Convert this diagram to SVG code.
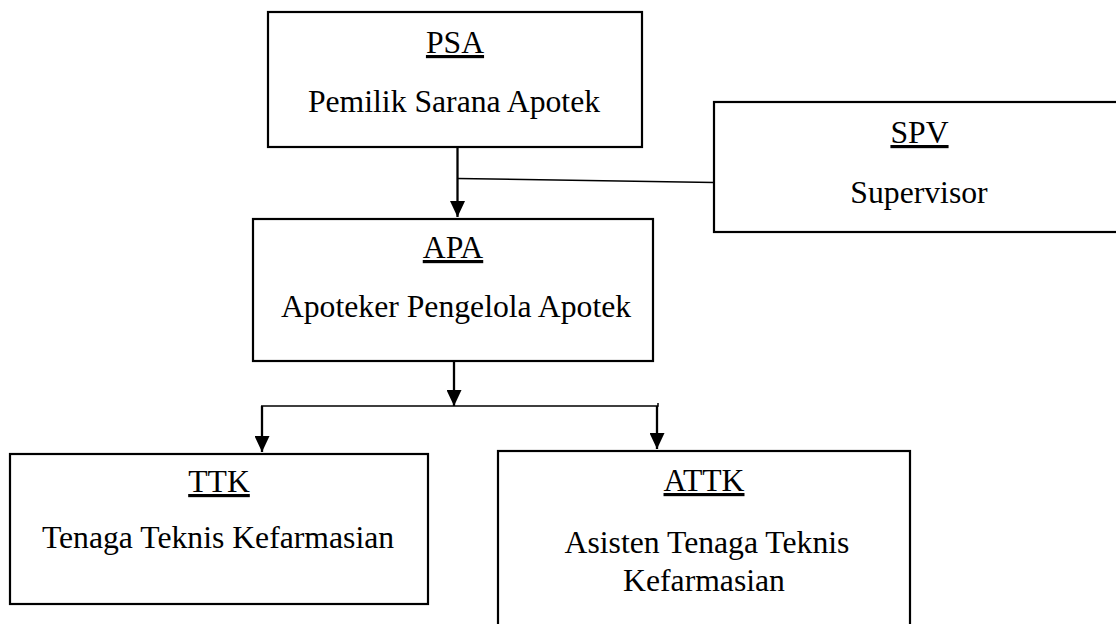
<svg xmlns="http://www.w3.org/2000/svg" width="1116" height="624" viewBox="0 0 1116 624">
<style>
.box{fill:#fff;stroke:#000;stroke-width:2.2}
.t{font-family:"Liberation Serif","Times New Roman",serif;font-size:31.7px;fill:#000;text-anchor:middle}
.u{text-decoration:underline}
.c{fill:none;stroke:#000;stroke-width:2.3}
.thin{fill:none;stroke:#000;stroke-width:1.5}
</style>
<defs>
<marker id="ah" markerUnits="userSpaceOnUse" markerWidth="17" markerHeight="15" refX="16" refY="7.5" orient="auto" viewBox="0 0 16 15">
<path d="M0,0 L16,7.5 L0,15 Z" fill="#000"/>
</marker>
</defs>
<rect width="1116" height="624" fill="#fff"/>
<g id="connectors">
<line class="c" x1="457.5" y1="147" x2="457.5" y2="217" marker-end="url(#ah)"/>
<line class="thin" x1="457.5" y1="178.5" x2="714" y2="182.5"/>
<line class="c" x1="454" y1="361" x2="454" y2="406" marker-end="url(#ah)"/>
<path class="thin" d="M261,406 H658 V403"/>
<line class="c" x1="262" y1="406" x2="262" y2="452" marker-end="url(#ah)"/>
<line class="c" x1="657" y1="406" x2="657" y2="449" marker-end="url(#ah)"/>
</g>
<g id="psa">
<rect class="box" x="268" y="12" width="374" height="135"/>
<text class="t u" x="455" y="53">PSA</text>
<text class="t" x="454" y="112">Pemilik Sarana Apotek</text>
</g>
<g id="spv">
<rect class="box" x="714" y="102" width="420" height="130"/>
<text class="t u" x="919.5" y="143">SPV</text>
<text class="t" x="919" y="203">Supervisor</text>
</g>
<g id="apa">
<rect class="box" x="253" y="219" width="400" height="142"/>
<text class="t u" x="453" y="258">APA</text>
<text class="t" x="456" y="317">Apoteker Pengelola Apotek</text>
</g>
<g id="ttk">
<rect class="box" x="10" y="454" width="418" height="150"/>
<text class="t u" x="219" y="492">TTK</text>
<text class="t" x="218" y="548">Tenaga Teknis Kefarmasian</text>
</g>
<g id="attk">
<rect class="box" x="498" y="451" width="412" height="200"/>
<text class="t u" x="704" y="491">ATTK</text>
<text class="t" x="707" y="553">Asisten Tenaga Teknis</text>
<text class="t" x="704" y="591">Kefarmasian</text>
</g>
</svg>
